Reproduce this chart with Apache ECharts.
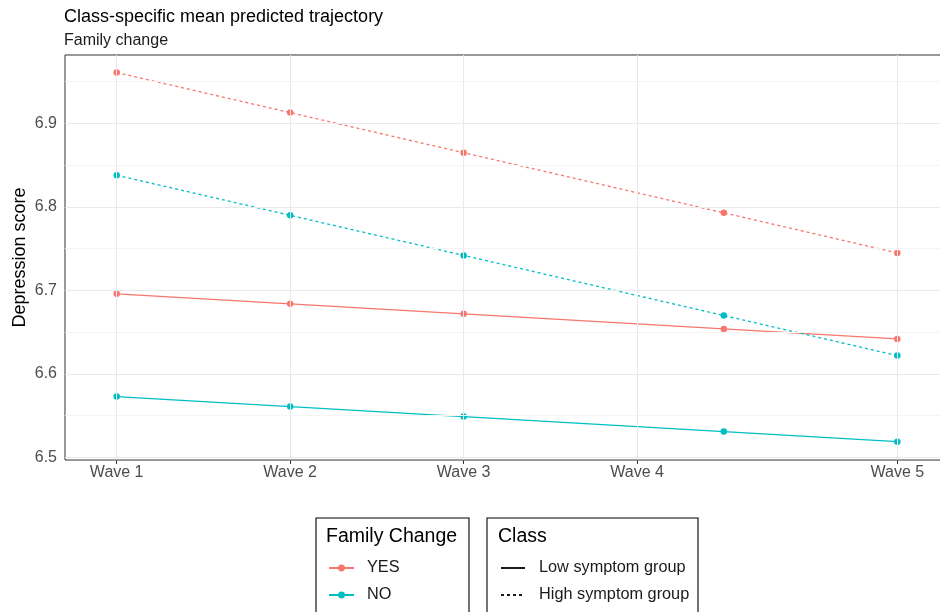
<!DOCTYPE html>
<html>
<head>
<meta charset="utf-8">
<script src="https://cdn.jsdelivr.net/npm/echarts@6/dist/echarts.min.js"></script>
<style>
  html, body { margin: 0; padding: 0; background: #fff; }
  #chart { width: 940px; height: 612px; }
</style>
</head>
<body>
<div id="chart"></div>
<script>
// Time axis: measurement occasions (in years from Wave 1) and the labelled breaks
const waveLabels = ['Wave 1', 'Wave 2', 'Wave 3', 'Wave 4', 'Wave 5'];
const waveTicks = [0, 1, 2, 3, 4.5];
const timePoints = [0, 1, 2, 3.5, 4.5];

// Mean predicted depression score by family change and latent class
const yesLow = [6.696, 6.684, 6.672, 6.654, 6.642];
const yesHigh = [6.961, 6.913, 6.865, 6.793, 6.745];
const noLow = [6.573, 6.561, 6.549, 6.531, 6.519];
const noHigh = [6.838, 6.790, 6.742, 6.670, 6.622];

// Y axis breaks
const yMajor = [6.5, 6.6, 6.7, 6.8, 6.9];
const yMinor = [6.55, 6.65, 6.75, 6.85, 6.95];

const FONT = 'Liberation Sans, Arial, sans-serif';
const COL_YES = '#F8766D';
const COL_NO = '#00BFC4';

const pairs = vals => timePoints.map((t, i) => [t, vals[i]]);

function traj(name, vals, color, dashed) {
  return {
    name: name,
    type: 'line',
    data: pairs(vals),
    symbol: 'circle',
    symbolSize: 6.5,
    z: 3,
    itemStyle: { color: color },
    lineStyle: { color: color, width: 1.3, type: dashed ? [3, 3] : 'solid' },
    emphasis: { disabled: true }
  };
}

function gridLine(key, v, color) {
  const d = {};
  d[key] = v;
  d.lineStyle = { color: color, width: 1, type: 'solid' };
  return d;
}

const legendText = { fontFamily: FONT, fontSize: 16.3, color: '#1a1a1a' };

const chart = echarts.init(document.getElementById('chart'), null, { renderer: 'canvas' });

chart.setOption({
  animation: false,
  backgroundColor: '#ffffff',
  textStyle: { fontFamily: FONT },
  title: {
    text: 'Class-specific mean predicted trajectory',
    subtext: 'Family change',
    left: 64,
    top: 8,
    itemGap: 7,
    padding: 0,
    textStyle: { fontFamily: FONT, fontSize: 18, fontWeight: 'normal', color: '#000' },
    subtextStyle: { fontFamily: FONT, fontSize: 16, color: '#1a1a1a' }
  },
  grid: {
    left: 65,
    top: 55,
    width: 884,
    bottom: 152,
    outerBoundsMode: 'none',
    show: true,
    borderColor: '#333333',
    borderWidth: 1,
    backgroundColor: 'transparent'
  },
  xAxis: {
    type: 'value',
    min: -0.298,
    max: 4.798,
    axisLine: { show: false },
    splitLine: { show: false },
    axisTick: { show: true, customValues: waveTicks, length: 4, lineStyle: { color: '#333', width: 1 } },
    axisLabel: {
      customValues: waveTicks,
      formatter: v => waveLabels[waveTicks.indexOf(v)] || '',
      color: '#4d4d4d',
      fontSize: 16,
      fontFamily: FONT,
      margin: 5
    }
  },
  yAxis: {
    type: 'value',
    min: 6.497,
    max: 6.982,
    name: 'Depression score',
    nameLocation: 'middle',
    nameGap: 36,
    nameMoveOverlap: false,
    nameTextStyle: { fontFamily: FONT, fontSize: 18, color: '#000' },
    axisLine: { show: false },
    splitLine: { show: false },
    axisTick: { show: true, customValues: yMajor, length: 4, lineStyle: { color: '#333', width: 1 } },
    axisLabel: {
      customValues: yMajor,
      formatter: v => v.toFixed(1),
      color: '#4d4d4d',
      fontSize: 16,
      fontFamily: FONT,
      margin: 8
    }
  },
  legend: [
    {
      data: ['YES', 'NO'],
      orient: 'vertical',
      left: 328,
      top: 560,
      padding: 0,
      itemWidth: 25,
      itemHeight: 8.5,
      itemGap: 11,
      selectedMode: false,
      textStyle: Object.assign({ padding: [0, 0, 0, 8] }, legendText)
    },
    {
      data: ['Low symptom group', 'High symptom group'],
      orient: 'vertical',
      left: 500,
      top: 560,
      padding: 0,
      itemWidth: 24,
      itemHeight: 8.5,
      itemGap: 11,
      selectedMode: false,
      textStyle: Object.assign({ padding: [0, 0, 0, 9] }, legendText)
    }
  ],
  graphic: [
    { type: 'rect', shape: { x: 316, y: 518, width: 153, height: 120 }, style: { fill: 'none', stroke: '#000', lineWidth: 1.1 }, silent: true },
    { type: 'rect', shape: { x: 487, y: 518, width: 211, height: 120 }, style: { fill: 'none', stroke: '#000', lineWidth: 1.1 }, silent: true },
    { type: 'text', x: 326, y: 537, style: { text: 'Family Change', fontFamily: FONT, fontSize: 19.5, fill: '#000', verticalAlign: 'middle' }, silent: true },
    { type: 'text', x: 498, y: 537, style: { text: 'Class', fontFamily: FONT, fontSize: 19.5, fill: '#000', verticalAlign: 'middle' }, silent: true }
  ],
  series: [
    // panel grid lines, drawn underneath the trajectories
    {
      name: 'panel-grid',
      type: 'line',
      data: [],
      z: 1,
      silent: true,
      markLine: {
        silent: true,
        symbol: ['none', 'none'],
        label: { show: false },
        emphasis: { disabled: true },
        animation: false,
        data: [
          ...yMinor.map(v => gridLine('yAxis', v, '#f4f4f4')),
          ...yMajor.map(v => gridLine('yAxis', v, '#e9e9e9')),
          ...waveTicks.map(v => gridLine('xAxis', v, '#e9e9e9'))
        ]
      }
    },
    traj('YES', yesLow, COL_YES, false),
    traj('YES', yesHigh, COL_YES, true),
    traj('NO', noLow, COL_NO, false),
    traj('NO', noHigh, COL_NO, true),
    // class key entries: line only, no point marker
    {
      name: 'Low symptom group', type: 'line', data: [], symbol: 'none',
      itemStyle: { color: 'rgba(0,0,0,0)' }, lineStyle: { color: '#1a1a1a', width: 1.3, type: 'solid' }
    },
    {
      name: 'High symptom group', type: 'line', data: [], symbol: 'none',
      itemStyle: { color: 'rgba(0,0,0,0)' }, lineStyle: { color: '#1a1a1a', width: 1.3, type: [3, 3] }
    }
  ]
});
</script>
</body>
</html>
